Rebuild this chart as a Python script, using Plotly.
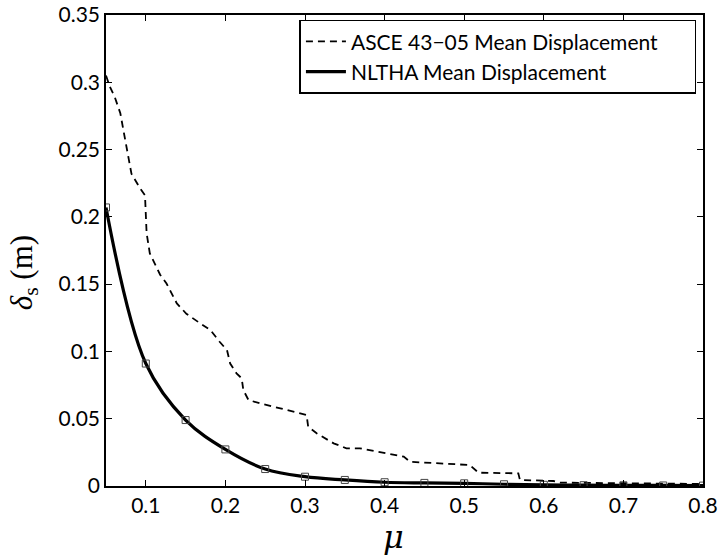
import plotly.graph_objects as go

# ASCE 43-05 mean displacement (dashed)
asce_mu = [0.05, 0.055, 0.061, 0.068, 0.072, 0.076, 0.082, 0.093, 0.099, 0.101, 0.105, 0.118,
           0.126, 0.139, 0.151, 0.168, 0.181, 0.193, 0.202, 0.206, 0.214, 0.2205, 0.2225, 0.229,
           0.2435, 0.269, 0.302, 0.304, 0.315, 0.336, 0.352, 0.369, 0.424, 0.432, 0.507, 0.518,
           0.568, 0.570, 0.612, 0.620, 0.80]
asce_disp = [0.305, 0.2965, 0.289, 0.277, 0.264, 0.252, 0.232, 0.221, 0.216, 0.188, 0.173, 0.157,
             0.1505, 0.1357, 0.128, 0.121, 0.116, 0.107, 0.101, 0.091, 0.0837, 0.080, 0.0713, 0.0639,
             0.0614, 0.0577, 0.0527, 0.044, 0.039, 0.0317, 0.028, 0.028, 0.0218, 0.018, 0.0156, 0.0099,
             0.0094, 0.0045, 0.0037, 0.0025, 0.0015]

# NLTHA mean displacement (solid with square markers)
nltha_mu = [0.05, 0.1, 0.15, 0.2, 0.25, 0.3, 0.35, 0.4, 0.45, 0.5, 0.55, 0.6, 0.65, 0.7, 0.75, 0.8]
nltha_disp = [0.207, 0.091, 0.049, 0.0272, 0.0126, 0.0069, 0.0045, 0.0028, 0.0023, 0.002,
              0.0013, 0.0009, 0.0006, 0.0005, 0.0004, 0.0003]

x_ticks = [0.1, 0.2, 0.3, 0.4, 0.5, 0.6, 0.7, 0.8]
x_tick_text = ["0.1", "0.2", "0.3", "0.4", "0.5", "0.6", "0.7", "0.8"]
y_ticks = [0, 0.05, 0.1, 0.15, 0.2, 0.25, 0.3, 0.35]
y_tick_text = ["0", "0.05", "0.1", "0.15", "0.2", "0.25", "0.3", "0.35"]

pad = "\u00a0" * 6

fig = go.Figure()
fig.add_trace(go.Scatter(
    x=asce_mu, y=asce_disp, mode="lines", name="ASCE 43\u221205 Mean Displacement" + pad,
    line=dict(color="black", width=1.8, dash="7px,5px"),
))
fig.add_trace(go.Scatter(
    x=nltha_mu, y=nltha_disp, mode="lines", name="NLTHA Mean Displacement",
    line=dict(color="black", width=3.2, shape="spline", smoothing=1.0),
))
fig.add_trace(go.Scatter(
    x=nltha_mu, y=nltha_disp, mode="markers", showlegend=False,
    marker=dict(symbol="square-open", size=7, color="#444444", line=dict(width=1)),
))

font_tick = dict(family="Lato, 'Open Sans', sans-serif", size=21, color="black")

fig.update_layout(
    width=718, height=557,
    margin=dict(l=106, r=15, t=15, b=71, autoexpand=False),
    paper_bgcolor="white", plot_bgcolor="white",
    showlegend=True,
    legend=dict(
        x=0.989, y=0.99, xanchor="right", yanchor="top",
        bgcolor="white", bordercolor="black", borderwidth=1.5,
        font=dict(family="Lato, 'Open Sans', sans-serif", size=21, color="black"),
        tracegroupgap=0, itemwidth=40,
    ),
    xaxis=dict(
        range=[0.05, 0.8], tickvals=x_ticks, ticktext=x_tick_text,
        ticks="inside", ticklen=6, tickcolor="black", tickwidth=1,
        showline=True, linecolor="black", linewidth=1.5, mirror="ticks",
        showgrid=False, zeroline=False, tickfont=font_tick, automargin=False,
    ),
    yaxis=dict(
        range=[0, 0.35], tickvals=y_ticks, ticktext=y_tick_text,
        ticks="inside", ticklen=6, tickcolor="black", tickwidth=1,
        showline=True, linecolor="black", linewidth=1.5, mirror="ticks",
        showgrid=False, zeroline=False, tickfont=font_tick, automargin=False,
    ),
    annotations=[
        dict(text="<i>\u03bc</i>", xref="paper", yref="paper", x=0.481, y=-0.108,
             xanchor="center", yanchor="middle", showarrow=False,
             font=dict(family="DejaVu Serif, serif", size=32, color="black")),
        dict(text="<i>\u03b4</i><sub>s</sub> (m)", xref="paper", yref="paper", x=-0.138, y=0.453,
             xanchor="center", yanchor="middle", showarrow=False, textangle=-90,
             font=dict(family="Liberation Serif, serif", size=31, color="black")),
    ],
)

fig.write_html("out.html", config={"displayModeBar": False},
               post_script="document.body.style.margin='0';")
